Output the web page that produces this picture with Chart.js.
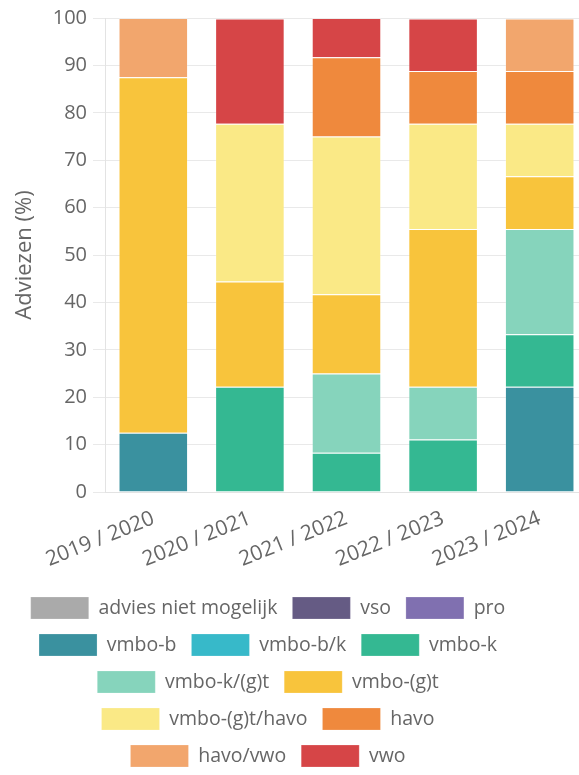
<!DOCTYPE html>
<html>
<head>
<meta charset="utf-8">
<script src="https://cdn.jsdelivr.net/npm/chart.js@4.4.1/dist/chart.umd.min.js"></script>
<style>
  html, body { margin: 0; padding: 0; background: #fff; overflow: hidden; }
</style>
</head>
<body>
<canvas id="adviesChart" width="590" height="777"></canvas>
<script>
// schooljaren
const years = ['2019 / 2020', '2020 / 2021', '2021 / 2022', '2022 / 2023', '2023 / 2024'];

// percentages per advies (van onder naar boven gestapeld)
const adviesNietMogelijk = [0, 0, 0, 0, 0];
const vso = [0, 0, 0, 0, 0];
const pro = [0, 0, 0, 0, 0];
const vmboB = [12.5, 0, 0, 0, 22.2];
const vmboBK = [0, 0, 0, 0, 0];
const vmboK = [0, 22.2, 8.3, 11.1, 11.1];
const vmboKGT = [0, 0, 16.7, 11.1, 22.2];
const vmboGT = [75, 22.2, 16.7, 33.3, 11.1];
const vmboGTHavo = [0, 33.3, 33.3, 22.2, 11.1];
const havo = [0, 0, 16.7, 11.1, 11.1];
const havoVwo = [12.5, 0, 0, 0, 11.1];
const vwo = [0, 22.2, 8.3, 11.1, 0];

const yTicks = [0, 10, 20, 30, 40, 50, 60, 70, 80, 90, 100];

const series = [
    ['advies niet mogelijk', adviesNietMogelijk, '#aaaaaa'],
    ['vso', vso, '#655b84'],
    ['pro', pro, '#8070b0'],
    ['vmbo-b', vmboB, '#3a919f'],
    ['vmbo-b/k', vmboBK, '#37b9c9'],
    ['vmbo-k', vmboK, '#34b892'],
    ['vmbo-k/(g)t', vmboKGT, '#86d4bc'],
    ['vmbo-(g)t', vmboGT, '#f8c43c'],
    ['vmbo-(g)t/havo', vmboGTHavo, '#fae986'],
    ['havo', havo, '#ef893d'],
    ['havo/vwo', havoVwo, '#f2a66d'],
    ['vwo', vwo, '#d64547']
];

const FONT = '"Open Sans", sans-serif';
const LEGEND_L = 10;   // legenda is smaller dan het canvas
const LEGEND_W = 516;

// legenda centreren over een smallere strook i.p.v. de volle breedte
const legendWidthPlugin = {
    id: 'legendWidth',
    afterInit(chart) {
        const lg = chart.legend;
        const orig = lg.update.bind(lg);
        lg.update = (w, h, m) => orig(LEGEND_W, h, m);
    },
    afterLayout(chart) {
        const lg = chart.legend;
        lg.left = LEGEND_L;
        lg.right = LEGEND_L + LEGEND_W;
        lg.width = LEGEND_W;
    }
};

const ctx = document.getElementById('adviesChart').getContext('2d');
const myChart = new Chart(ctx, {
    type: 'bar',
    data: {
        labels: years,
        datasets: series.map(s => ({
            label: s[0],
            data: s[1],
            backgroundColor: s[2],
            borderColor: 'rgba(255,255,255,0.2)',
            borderWidth: 1
        }))
    },
    options: {
        responsive: false,
        animation: false,
        layout: { padding: { top: 16, right: 2, left: 0, bottom: 0 } },
        datasets: { bar: { categoryPercentage: 0.72, barPercentage: 1 } },
        scales: {
            x: {
                stacked: true,
                grid: { display: false },
                border: { display: true, color: '#e3e3e3' },
                ticks: {
                    color: '#666',
                    font: { family: FONT, size: 21 },
                    minRotation: 22,
                    maxRotation: 22,
                    padding: 6
                },
                afterFit: s => { s.height = 90; }
            },
            y: {
                stacked: true,
                min: 0,
                max: 100,
                afterBuildTicks: s => { s.ticks = yTicks.map(v => ({ value: v })); },
                grid: { color: '#e9e9e9', tickLength: 12 },
                border: { color: '#e3e3e3' },
                ticks: {
                    color: '#666',
                    font: { family: FONT, size: 20 },
                    padding: 6
                },
                title: {
                    display: true,
                    text: 'Adviezen (%)',
                    color: '#666',
                    font: { family: FONT, size: 22 },
                    padding: { top: 12, bottom: 4 }
                },
                afterFit: s => { s.width = 105; }
            }
        },
        plugins: {
            legend: {
                position: 'bottom',
                labels: {
                    color: '#666',
                    font: { family: FONT, size: 19.5 },
                    boxWidth: 58,
                    boxHeight: 22,
                    padding: 15
                }
            },
            tooltip: { enabled: false }
        }
    },
    plugins: [legendWidthPlugin]
});
</script>
</body>
</html>
